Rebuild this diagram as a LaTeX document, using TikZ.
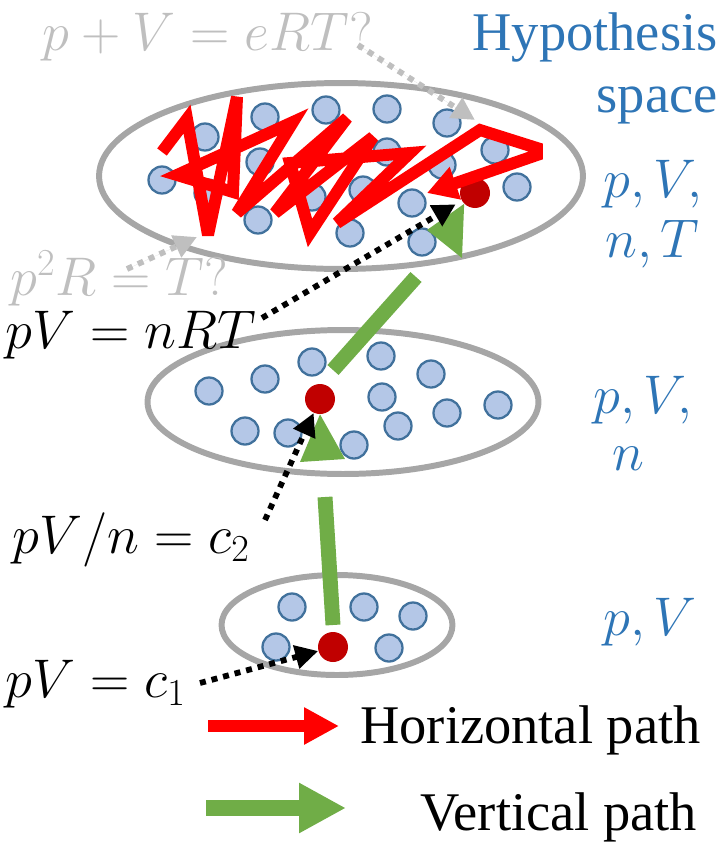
\RequirePackage{fix-cm}
\documentclass[tikz,border=0pt]{standalone}
\usepackage{fontspec}
\newfontfamily\timesfont{Liberation Serif}
\usetikzlibrary{arrows.meta,shapes.geometric}

\definecolor{ringgray}{HTML}{A6A6A6}
\definecolor{hintgray}{HTML}{BFBFBF}
\definecolor{candfill}{HTML}{B4C7E7}
\definecolor{canddraw}{HTML}{41719C}
\definecolor{soldot}{HTML}{C00000}
\definecolor{vgreen}{HTML}{70AD47}
\definecolor{labblue}{HTML}{2E75B6}
\definecolor{hred}{HTML}{FF0000}

\newcommand{\lbl}{\fontsize{31}{36}\selectfont}

\begin{document}
\begin{tikzpicture}[x=0.02cm,y=-0.02cm]
\tikzstyle{hspace} = [shape = ellipse,draw = ringgray,line width = 3.4pt,inner sep=0pt]
\tikzstyle{cand} = [shape = circle,fill = candfill,draw = canddraw,line width = 1.3pt,minimum size = 0.54cm,inner sep=0pt]
\tikzstyle{sol} = [shape = circle,fill = soldot,minimum size = 0.6cm,inner sep=0pt]
\tikzstyle{eq} = [inner sep=0pt,anchor=base west,font=\lbl]
\tikzstyle{dots} = [line width=3.3pt,dash pattern=on 3.4pt off 3.4pt,-{Triangle[length=13pt,width=13pt]}]
\tikzstyle{hint} = [dots,draw=hintgray,fill=hintgray]
\tikzstyle{vshaft} = [draw=vgreen,line width=8.5pt]

\useasboundingbox (0,0) rectangle (724,842);

% the three hypothesis spaces
\node[hspace, minimum width=9.68cm, minimum height=3.72cm] (top) at (341,176) {};
\node[hspace, minimum width=7.82cm, minimum height=2.88cm] (mid) at (343,402) {};
\node[hspace, minimum width=4.62cm, minimum height=2.0cm] (bot) at (337,625) {};

\foreach \x/\y [count=\i] in {162/180,205/137,265/117,326/110,387/109,447/123,495/150,517/187,260/162,208/193,312/197,387/152,363/190,442/165,412/203,258/220,350/233,422/242}
  \node[cand] (t\i) at (\x,\y) {};
\foreach \x/\y [count=\i] in {209/391,265/379,312/362,381/356,431/374,382/397,447/413,498/405,398/426,245/431,288/433,354/445}
  \node[cand] (m\i) at (\x,\y) {};
\foreach \x/\y [count=\i] in {292/607,364/607,413/616,276/647,389/648}
  \node[cand] (b\i) at (\x,\y) {};

\node[sol] (tdot) at (475,193) {};
\node[sol] (mdot) at (320,399) {};
\node[sol] (bdot) at (333,647) {};

% horizontal search
\draw[draw=hred,line width=6.8pt,miter limit=4,-{Triangle[length=0.6cm,width=0.65cm]}]
  (162,152) -- (187,119) -- (208,235) -- (237,97) -- (233,192) -- (177,175) -- (293,122)
  -- (237,213) -- (347,118) -- (275,213) -- (373,137) -- (310,233) -- (290,163) -- (410,153)
  -- (337,223) -- (480,130) -- (537,148) -- (537,155) -- (427,193);

% vertical steps
\coordinate (vb0) at (333,625);
\coordinate (vb1) at (325,497);
\coordinate (vm0) at (333,370);
\coordinate (vm1) at (416,277);
\draw[vshaft] (vb0) -- (vb1);
\fill[vgreen] (mdot.south) -- (300,462) -- (345,459) -- cycle;
\draw[vshaft] (vm0) -- (vm1);
\fill[vgreen] (tdot.south west) -- (427,230) -- (462,258) -- cycle;

% labels
\node[eq, text=hintgray] (q1) at (42,50) {$p+V=eRT?$};
\node[eq, text=hintgray] (q2) at (10,295) {$p^2R=T?$};
\node[eq] (l3) at (5,348) {$pV=nRT$};
\node[eq] (l2) at (12,553) {$pV/n=c_2$};
\node[eq] (l1) at (5,697) {$pV=c_1$};

\node[inner sep=0pt,anchor=base east,font=\timesfont\lbl,text=labblue] (hyp1) at (718,50) {Hypothesis};
\node[inner sep=0pt,anchor=base east,font=\timesfont\lbl,text=labblue] (hyp2) at (718,112) {space};
\node[eq, text=labblue] (v3a) at (603,197) {$p,V,$};
\node[eq, text=labblue] (v3b) at (605,257) {$n,T$};
\node[eq, text=labblue] (v2a) at (593,413) {$p,V,$};
\node[eq, text=labblue] (v2b) at (612,470) {$n$};
\node[eq, text=labblue] (v1) at (603,635) {$p,V$};

% pointers
\coordinate (s3) at (262,318);
\coordinate (s2) at (265,520);
\coordinate (s1) at (200,683);
\draw[dots, shorten >=4pt] (s3) -- (tdot);
\draw[dots] (s2) -- (mdot);
\draw[dots] (s1) -- (bdot);

\coordinate (g1) at (358,45);
\coordinate (g1e) at (475,120);
\coordinate (g2) at (127,269);
\coordinate (g2e) at (197,237);
\draw[hint] (g1) -- (g1e);
\draw[hint] (g2) -- (g2e);

% legend
\coordinate (h0) at (208,726);
\coordinate (h1) at (339,726);
\coordinate (w0) at (206,808);
\coordinate (w1) at (346,808);
\draw[draw=hred,line width=6.8pt,-{Triangle[length=0.7cm,width=0.7cm]}] (h0) -- (h1);
\draw[draw=vgreen,line width=9.6pt,-{Triangle[length=0.94cm,width=0.94cm]}] (w0) -- (w1);
\node[inner sep=0pt,anchor=base west,font=\timesfont\lbl] (hlab) at (360,743) {Horizontal path};
\node[inner sep=0pt,anchor=base west,font=\timesfont\lbl] (vlab) at (420,830) {Vertical path};

\end{tikzpicture}
\end{document}
